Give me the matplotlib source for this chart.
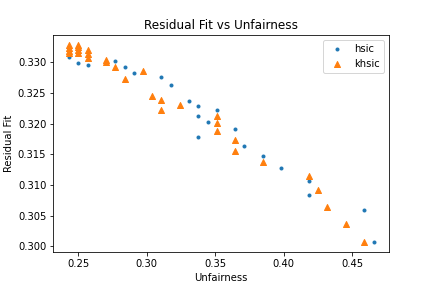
import matplotlib
matplotlib.use("Agg")
import matplotlib.pyplot as plt

hsic_x = [0.2430, 0.2497, 0.2570, 0.2768, 0.2841, 0.2906, 0.3104, 0.3177, 0.3309,
          0.3374, 0.3374, 0.3374, 0.3447, 0.3513, 0.3645, 0.3711, 0.3849, 0.3981,
          0.4186, 0.4186, 0.4588, 0.4661]
hsic_y = [0.33092, 0.32995, 0.32963, 0.33017, 0.32930, 0.32830, 0.32767, 0.32637, 0.32376,
          0.32294, 0.32130, 0.31789, 0.32033, 0.32229, 0.31919, 0.31642, 0.31479, 0.31283,
          0.31071, 0.30843, 0.30598, 0.30063]

khsic_x = [0.2430, 0.2430, 0.2430, 0.2430,
           0.2497, 0.2497, 0.2497, 0.2497,
           0.2570, 0.2570, 0.2570,
           0.2702, 0.2702,
           0.2768, 0.2841, 0.2972, 0.3038, 0.3104, 0.3104, 0.3243,
           0.3513, 0.3513, 0.3513,
           0.3645, 0.3645,
           0.3849, 0.4186, 0.4252, 0.4317, 0.4456, 0.4588]
khsic_y = [0.33275, 0.33235, 0.33190, 0.33150,
           0.33284, 0.33245, 0.33200, 0.33152,
           0.33201, 0.33136, 0.33071,
           0.33045, 0.33004,
           0.32920, 0.32720, 0.32850, 0.32457, 0.32390, 0.32230, 0.32310,
           0.32131, 0.32017, 0.31887,
           0.31740, 0.31560,
           0.31381, 0.31153, 0.30925, 0.30647, 0.30364, 0.30063]

fig = plt.figure(figsize=(6, 4), dpi=72)
ax = fig.add_axes([53.3 / 432, 1 - 252.3 / 288, 336 / 432, 217.3 / 288])
ax.scatter(hsic_x, hsic_y, marker='.', label='hsic')
ax.scatter(khsic_x, khsic_y, marker='^', label='khsic')
ax.set_title('Residual Fit vs Unfairness')
ax.set_xlabel('Unfairness')
ax.set_ylabel('Residual Fit')
ax.legend(loc='upper right')
fig.savefig('out.png', dpi=72)
